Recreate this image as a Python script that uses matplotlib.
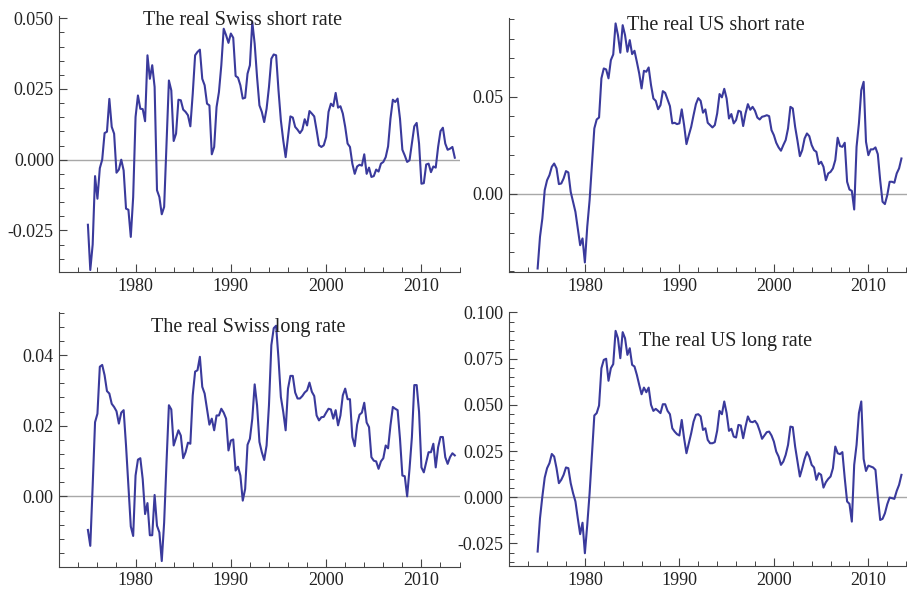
import numpy as np
import matplotlib
matplotlib.use('Agg')
import matplotlib.pyplot as plt
from matplotlib.ticker import MultipleLocator, FormatStrFormatter

plt.rcParams['font.family'] = ['Liberation Serif', 'DejaVu Serif']
plt.rcParams['axes.unicode_minus'] = False

# quarterly, 1975Q1 .. 2013Q3
dates = 1975 + np.arange(155) / 4

swiss_short = [
    -0.023, -0.039, -0.030, -0.0058, -0.0138, -0.003, 0.000, 0.0094, 0.0099, 0.0215,
    0.0116, 0.0092, -0.0046, -0.0035, 0.000, -0.0038, -0.0173, -0.0177, -0.0273, -0.0132,
    0.0151, 0.0227, 0.018, 0.0179, 0.0136, 0.0369, 0.0286, 0.0334, 0.0257, -0.0108,
    -0.0132, -0.0193, -0.0167, 0.0057, 0.028, 0.0245, 0.0066, 0.0092, 0.0212, 0.021,
    0.0177, 0.0169, 0.0157, 0.0118, 0.0233, 0.0369, 0.0381, 0.0389, 0.0286, 0.0263,
    0.0198, 0.0192, 0.0019, 0.0045, 0.0186, 0.0239, 0.0334, 0.0463, 0.044, 0.0413,
    0.0446, 0.0431, 0.0296, 0.029, 0.0263, 0.0216, 0.0219, 0.0304, 0.0334, 0.0487,
    0.041, 0.0292, 0.0192, 0.0169, 0.0133, 0.018, 0.0257, 0.0357, 0.0372, 0.0369,
    0.0245, 0.0139, 0.0068, 0.0009, 0.008, 0.0153, 0.0149, 0.0116, 0.0106, 0.0094,
    0.0106, 0.0143, 0.0121, 0.0172, 0.0163, 0.0153, 0.0104, 0.0051, 0.0045, 0.0051,
    0.008, 0.0169, 0.0198, 0.0189, 0.0236, 0.0184, 0.0189, 0.0163, 0.0116, 0.0057,
    0.0045, -0.0014, -0.005, -0.0024, -0.0018, -0.0021, 0.0019, -0.005, -0.0028, -0.0061,
    -0.0058, -0.0035, -0.0042, -0.0014, -0.0008, 0.0009, 0.0047, 0.0145, 0.0212, 0.0204,
    0.0216, 0.0145, 0.0035, 0.0015, -0.0008, -0.0002, 0.0057, 0.0118, 0.013, 0.0057,
    -0.0085, -0.0083, -0.0017, -0.0014, -0.0044, -0.0024, -0.0028, 0.0045, 0.0101, 0.0113,
    0.0057, 0.0035, 0.0039, 0.0045, 0.0007,
]

us_short = [
    -0.0385, -0.0222, -0.0127, 0.0019, 0.007, 0.0096, 0.0139, 0.0156, 0.0131, 0.005,
    0.0053, 0.0079, 0.0117, 0.011, 0.001, -0.0041, -0.0093, -0.0179, -0.0265, -0.023,
    -0.0354, -0.017, -0.0033, 0.0148, 0.0337, 0.0383, 0.0393, 0.0595, 0.0646, 0.0641,
    0.0595, 0.0689, 0.0718, 0.0878, 0.0818, 0.0727, 0.0869, 0.0818, 0.0732, 0.0792,
    0.072, 0.0737, 0.068, 0.062, 0.0543, 0.0634, 0.0629, 0.0651, 0.056, 0.0491,
    0.0479, 0.0436, 0.0457, 0.0529, 0.052, 0.0486, 0.0452, 0.0363, 0.0366, 0.0359,
    0.0363, 0.0435, 0.0354, 0.0256, 0.0302, 0.0345, 0.0405, 0.0462, 0.0493, 0.0479,
    0.0418, 0.0435, 0.0366, 0.0354, 0.0342, 0.0354, 0.0414, 0.0514,
    0.0497, 0.0541, 0.0491, 0.0388, 0.0411, 0.0363, 0.038, 0.0428, 0.0423, 0.0349,
    0.0414, 0.0462, 0.0433, 0.0448, 0.0428, 0.0393, 0.0383, 0.0397, 0.04, 0.0405,
    0.04, 0.0328, 0.0302, 0.0263, 0.0239, 0.0222, 0.0251, 0.0277, 0.0337, 0.0448,
    0.044, 0.0345, 0.0273, 0.0194, 0.0225, 0.0285, 0.0311, 0.0297, 0.0251, 0.0225,
    0.0216, 0.0153, 0.0165, 0.0139, 0.007, 0.0105, 0.0113, 0.0131, 0.0174, 0.0289,
    0.0246, 0.0242, 0.0263, 0.0062, 0.0022, 0.0015, -0.0081, 0.0242, 0.0363, 0.0534,
    0.0577, 0.0268, 0.0199, 0.0229, 0.0229, 0.0239, 0.0204, 0.007, -0.0041, -0.0053,
    -0.0007, 0.0062, 0.0062, 0.0057, 0.0105, 0.0131, 0.0182,
]

swiss_long = [
    -0.0095, -0.014, 0.003, 0.021, 0.0234, 0.0367, 0.0372, 0.0343, 0.0298, 0.0291,
    0.0262, 0.0253, 0.0241, 0.0206, 0.0237, 0.0244, 0.0144, 0.003, -0.0085, -0.0112,
    0.0059, 0.0104, 0.0108, 0.0049, -0.005, -0.0019, -0.011, -0.011, 0.0004, -0.0083,
    -0.0102, -0.0183, -0.0074, 0.0097, 0.0258, 0.0246, 0.0144, 0.0165, 0.0187, 0.0172,
    0.0108, 0.0125, 0.0152, 0.0149, 0.0286, 0.0353, 0.0357, 0.0395, 0.031, 0.0291,
    0.0248, 0.0203, 0.022, 0.0187, 0.0229, 0.0229, 0.0248, 0.0237, 0.022, 0.013,
    0.0158, 0.0161, 0.0073, 0.0084, 0.0059, -0.0012, 0.0021, 0.0146, 0.0163, 0.022,
    0.0317, 0.0258, 0.0154, 0.0125, 0.0103, 0.0144, 0.0258, 0.0428, 0.0476, 0.0483,
    0.039, 0.0281, 0.0239, 0.0187, 0.0305, 0.0341, 0.0341, 0.0294, 0.0277, 0.0277,
    0.0284, 0.0294, 0.03, 0.0322, 0.0296, 0.0284, 0.0229, 0.0215, 0.0224, 0.0225,
    0.0237, 0.0248, 0.0246, 0.022, 0.0244, 0.0201, 0.0229, 0.0286, 0.0305, 0.0275,
    0.0275, 0.0168, 0.0142, 0.0203, 0.0231, 0.0237, 0.0265, 0.0209, 0.0196, 0.0111,
    0.0101, 0.0099, 0.0078, 0.0099, 0.0108, 0.0144, 0.0136, 0.0201, 0.0253, 0.0248,
    0.0244, 0.0163, 0.0059, 0.0057, 0.0, 0.0078, 0.0168, 0.0315, 0.0315, 0.0239,
    0.0082, 0.0068, 0.0097, 0.0125, 0.0125, 0.0149, 0.0082, 0.0139, 0.0168, 0.0168,
    0.0111, 0.0092, 0.0111, 0.0122, 0.0116,
]

us_long = [
    -0.0294, -0.0114, 0.0004, 0.0106, 0.0157, 0.0184, 0.0234, 0.022, 0.0157, 0.0076,
    0.0094, 0.0121, 0.0161, 0.0157, 0.0076, 0.0022, -0.0023, -0.0114, -0.02, -0.0138,
    -0.0303, -0.015, 0.0022, 0.0229, 0.0442, 0.0455, 0.0496, 0.0698, 0.0743, 0.0749,
    0.063, 0.0698, 0.072, 0.09, 0.086, 0.0752, 0.0893, 0.086, 0.077, 0.0806,
    0.0716, 0.0707, 0.0662, 0.0608, 0.0557, 0.0593, 0.0568, 0.0593, 0.05, 0.0467,
    0.0478, 0.0467, 0.0455, 0.0503, 0.0503, 0.0467, 0.0449, 0.0373, 0.0355, 0.0341,
    0.0334, 0.0418, 0.0319, 0.0238, 0.0292, 0.0346, 0.0409, 0.0446, 0.0449, 0.0437,
    0.0364, 0.0373, 0.031, 0.0292, 0.0292, 0.0298, 0.036, 0.0467,
    0.0449, 0.0518, 0.0455, 0.0359, 0.037, 0.0328, 0.0323, 0.0391, 0.0388, 0.0319,
    0.0382, 0.0437, 0.0409, 0.0406, 0.0413, 0.0395, 0.0359, 0.0316, 0.0334, 0.0352,
    0.0355, 0.0334, 0.0301, 0.0247, 0.022, 0.0175, 0.0193, 0.0229, 0.0283, 0.0382,
    0.0379, 0.0274, 0.0193, 0.0112, 0.0157, 0.0207, 0.0244, 0.022, 0.0175, 0.0161,
    0.0094, 0.013, 0.0121, 0.0052, 0.0081, 0.0099, 0.0112, 0.0157, 0.0274, 0.0238,
    0.0233, 0.0244, 0.0103, -0.0023, -0.0036, -0.0132, 0.0175, 0.0283, 0.0455, 0.0518,
    0.0207, 0.0142, 0.0171, 0.0166, 0.0161, 0.0148, 0.0004, -0.0123, -0.0117, -0.0087,
    -0.0038, -0.0002, -0.0005, -0.0009, 0.0034, 0.0067, 0.0121,
]

titles = ['The real Swiss short rate', 'The real US short rate',
          'The real Swiss long rate', 'The real US long rate']

line_col = '#3a3a9c'
axis_col = '#444444'

fig = plt.figure(figsize=(9.07, 5.9), dpi=100)

# [left, bottom, width, height], ylim, major, minor, fmt, title pos
panels = [
    (swiss_short, [0.0654, 0.5390, 0.4418, 0.4339], (-0.0397, 0.0508), 0.025, 0.005, '%.3f', (0.457, 0.965)),
    (us_short, [0.5615, 0.5390, 0.4381, 0.4305], (-0.0403, 0.0906), 0.05, 0.01, '%.2f', (0.519, 0.953)),
    (swiss_long, [0.0654, 0.0395, 0.4418, 0.4312], (-0.0199, 0.0521), 0.02, 0.004, '%.2f', (0.472, 0.921)),
    (us_long, [0.5615, 0.0407, 0.4381, 0.4305], (-0.0372, 0.1002), 0.025, 0.005, '%.3f', (0.544, 0.866)),
]

for (series, pos, ylim, major, minor, fmt, tpos), title in zip(panels, titles):
    ax = fig.add_axes(pos)
    ax.axhline(0, color='#a8a8a8', lw=1.0, zorder=1)
    ax.plot(dates, series, color=line_col, lw=1.5, zorder=2)
    ax.set_xlim(1972.0, 2014.05)
    ax.set_ylim(*ylim)
    for s in ['top', 'right']:
        ax.spines[s].set_visible(False)
    for s in ['left', 'bottom']:
        ax.spines[s].set_color(axis_col)
        ax.spines[s].set_linewidth(0.8)
    ax.xaxis.set_major_locator(MultipleLocator(10))
    ax.xaxis.set_minor_locator(MultipleLocator(2))
    ax.xaxis.set_major_formatter(FormatStrFormatter('%d'))
    ax.yaxis.set_major_locator(MultipleLocator(major))
    ax.yaxis.set_minor_locator(MultipleLocator(minor))
    ax.yaxis.set_major_formatter(FormatStrFormatter(fmt))
    ax.tick_params(which='major', direction='in', length=5.5, width=0.8,
                   color=axis_col, labelsize=13, labelcolor='#222222', pad=4)
    ax.tick_params(which='minor', direction='in', length=3.5, width=0.7, color=axis_col)
    ax.text(tpos[0], tpos[1], title, transform=ax.transAxes, ha='center',
            va='baseline', fontsize=14.5, color='#222222')

fig.savefig('out.png', dpi=100)
